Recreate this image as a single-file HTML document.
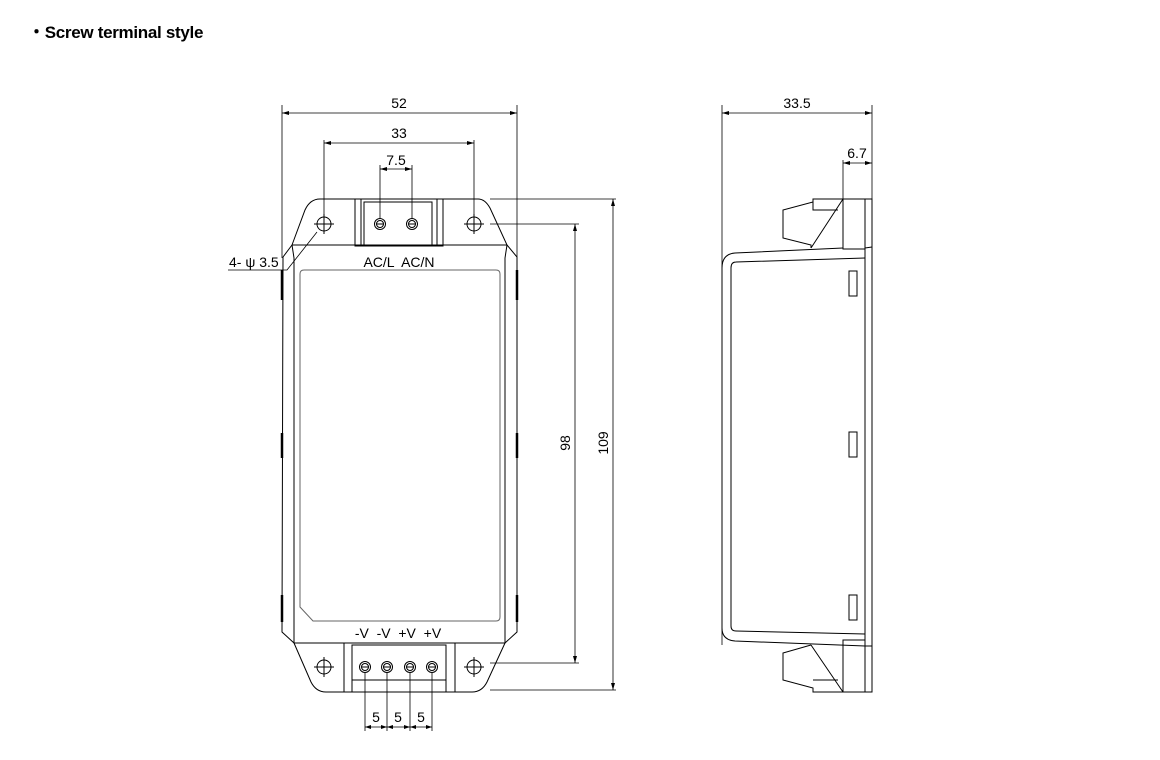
<!DOCTYPE html>
<html><head><meta charset="utf-8"><style>
body{margin:0;background:#fff;width:1160px;height:760px;overflow:hidden}
svg{display:block}
text{font-family:"Liberation Sans",sans-serif;fill:#000}
</style></head><body>
<svg width="1160" height="760" viewBox="0 0 1160 760" xmlns="http://www.w3.org/2000/svg">
<text x="28" y="38" font-size="17" font-weight="bold" letter-spacing="-0.3">・Screw terminal style</text>
<g fill="none" stroke="#000" stroke-width="1">
<path d="M292,245 L305,210 Q310,199 320,199 L478,199 Q485,199 490,208 L507,245 Z"/>
<path d="M292,245 L283,257 L282,632 L294,643"/>
<path d="M292,245 L294,258 L294,632"/>
<path d="M507,245 L517,257 L517,632 L505,643"/>
<path d="M507,245 L505,258 L505,632"/>
<path d="M294,632 L294,643 L505,643 L505,632"/>
<path d="M304,270 L496,270 Q500,270 500,274 L500,617 Q500,621 496,621 L313,621 L300,607 L300,274 Q300,270 304,270 Z" stroke="#666"/>
<line x1="282" y1="270" x2="282" y2="300" stroke-width="2.5"/>
<line x1="517" y1="270" x2="517" y2="300" stroke-width="2.5"/>
<line x1="282" y1="433" x2="282" y2="458" stroke-width="2.5"/>
<line x1="517" y1="433" x2="517" y2="458" stroke-width="2.5"/>
<line x1="282" y1="595" x2="282" y2="622" stroke-width="2.5"/>
<line x1="517" y1="595" x2="517" y2="622" stroke-width="2.5"/>
<circle cx="324" cy="224" r="7"/><circle cx="474" cy="224" r="7"/>
<path d="M314,224h20M324,214v20M464,224h20M474,214v20"/>
<rect x="355" y="199" width="88" height="47"/>
<rect x="361" y="199" width="76" height="47"/>
<rect x="364" y="202" width="68" height="44"/>
<circle cx="380" cy="224" r="5.5"/><circle cx="380" cy="224" r="3.5"/><line x1="376" y1="224" x2="384" y2="224"/>
<circle cx="412" cy="224" r="5.5"/><circle cx="412" cy="224" r="3.5"/><line x1="408" y1="224" x2="416" y2="224"/>
<path d="M294,643 L311,682 Q316,692 326,692 L472,692 Q482,692 487,682 L505,643"/>
<circle cx="324" cy="667" r="7"/><circle cx="474" cy="667" r="7"/>
<path d="M314,667h20M324,657v20M464,667h20M474,657v20"/>
<rect x="344" y="643" width="111" height="49"/>
<rect x="352" y="645" width="94" height="47"/>
<line x1="352" y1="680" x2="446" y2="680"/>
<g>
<circle cx="365" cy="667" r="5.5"/><circle cx="365" cy="667" r="3.5"/><line x1="361" y1="667" x2="369" y2="667"/>
<circle cx="387" cy="667" r="5.5"/><circle cx="387" cy="667" r="3.5"/><line x1="383" y1="667" x2="391" y2="667"/>
<circle cx="410" cy="667" r="5.5"/><circle cx="410" cy="667" r="3.5"/><line x1="406" y1="667" x2="414" y2="667"/>
<circle cx="432" cy="667" r="5.5"/><circle cx="432" cy="667" r="3.5"/><line x1="428" y1="667" x2="436" y2="667"/>
</g>
</g>
<g fill="none" stroke="#000" stroke-width="0.8">
<path d="M282,105V258M517,105V258M282,113H517"/>
<path d="M324,140V214M474,140V214M324,143H474"/>
<path d="M380,165V218M412,165V218M380,169H412"/>
<path d="M490,199H616M490,224H579M575,224V663M613,199V690M490,663H579M490,690H616"/>
<path d="M365,673V731M387,673V731M410,673V731M432,673V731M365,727H432"/>
<path d="M228,270H287L317,232"/>
<path d="M722,105V645M872,105V199M722,113H872M843,160V199M843,163H872"/>
</g>
<g fill="#000">
<path d="M282,113l7,-2v4z M517,113l-7,-2v4z M324,143l7,-2v4z M474,143l-7,-2v4z M380,169l7,-2v4z M412,169l-7,-2v4z"/>
<path d="M575,224l-2,7h4z M575,663l-2,-7h4z M613,199l-2,7h4z M613,690l-2,-7h4z"/>
<path d="M722,113l7,-2v4z M872,113l-7,-2v4z M843,163l7,-2v4z M872,163l-7,-2v4z"/>
<path d="M365,727l6,-2v4z M387,727l-6,-2v4z M387,727l6,-2v4z M410,727l-6,-2v4z M410,727l6,-2v4z M432,727l-6,-2v4z"/>
</g>
<g font-size="14">
<text x="399" y="108" text-anchor="middle">52</text>
<text x="399" y="138" text-anchor="middle">33</text>
<text x="396" y="165" text-anchor="middle">7.5</text>
<text x="399" y="267" text-anchor="middle" xml:space="preserve">AC/L  AC/N</text>
<text x="229" y="267">4- ψ 3.5</text>
<text x="398" y="638" text-anchor="middle" xml:space="preserve">-V  -V  +V  +V</text>
<text x="376" y="722" text-anchor="middle">5</text>
<text x="398" y="722" text-anchor="middle">5</text>
<text x="421" y="722" text-anchor="middle">5</text>
<text transform="translate(570,443) rotate(-90)" text-anchor="middle">98</text>
<text transform="translate(608,443) rotate(-90)" text-anchor="middle">109</text>
<text x="797" y="108" text-anchor="middle">33.5</text>
<text x="857" y="158" text-anchor="middle">6.7</text>
</g>
<g fill="none" stroke="#000" stroke-width="1">
<rect x="865" y="199" width="7" height="493"/>
<rect x="843" y="199" width="22" height="50"/>
<rect x="843" y="640" width="22" height="52"/>
<path d="M843,248 L735,253 Q722,254 722,268 L722,628 Q722,640 735,641 L865,646"/>
<path d="M865,248 L872,247 M865,646 L872,646"/>
<path d="M865,258 L736,262 Q731,262 731,268 L731,626 Q731,631 736,631 L865,634"/>
<path d="M843,199 L813,199 L813,202 L783,210 L783,238 L811,245 L811,248 M843,199 L811,248"/>
<path d="M813,202 L813,210 L838,210"/>
<path d="M843,692 L811,645 M811,645 L783,653 L783,680 L813,688 L813,692 L843,692 M813,680 L838,680"/>
<rect x="849" y="271" width="8" height="25"/>
<rect x="849" y="432" width="8" height="25"/>
<rect x="849" y="595" width="8" height="25"/>
</g>
</svg>
</body></html>
